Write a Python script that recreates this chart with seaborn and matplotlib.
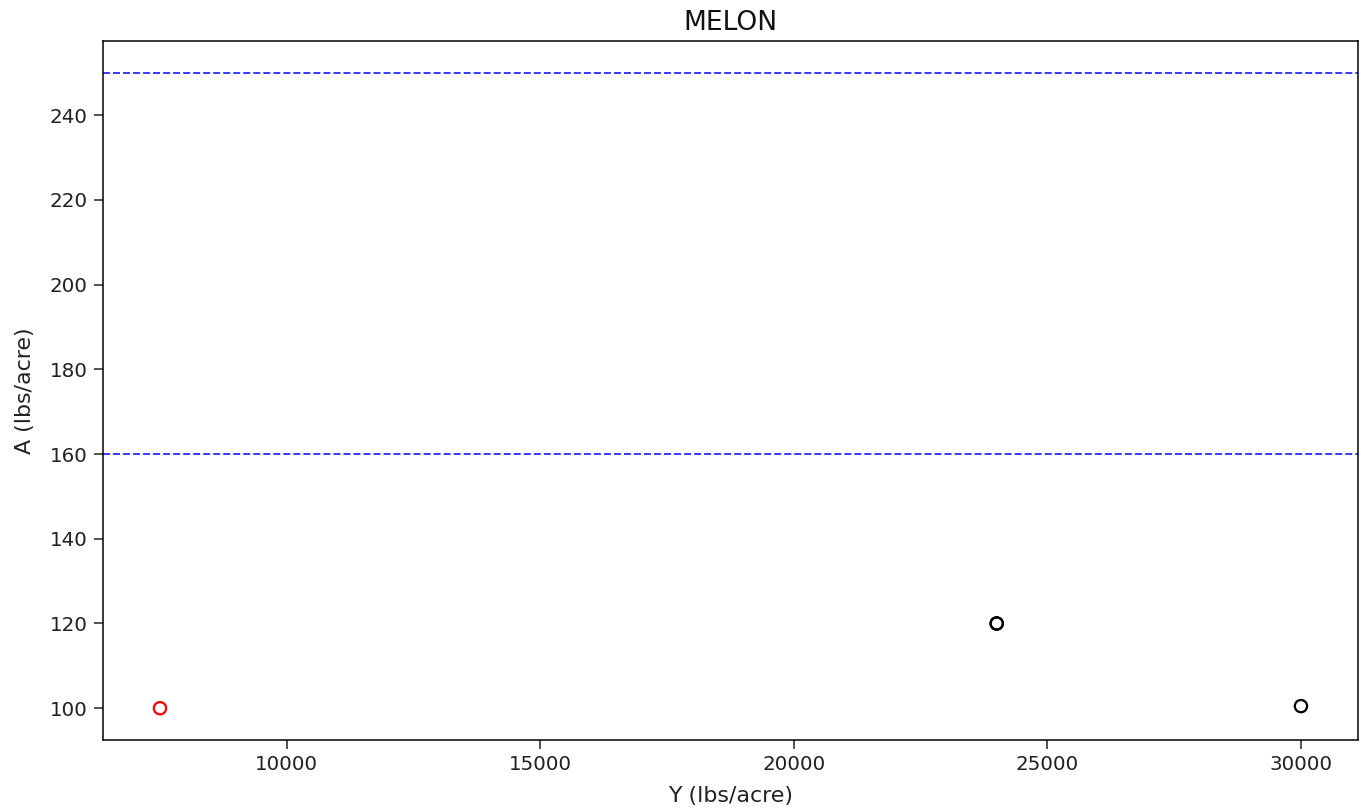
import matplotlib
matplotlib.use("Agg")
import matplotlib.pyplot as plt
import seaborn as sns
import pandas as pd

# Yield vs. application rate for melon fields
yield_lbs = [7500, 24000, 24000, 30000]
applied_lbs = [100, 120, 120, 100.5]
status = ["flag", "ok", "ok", "ok"]

# Recommended application band
band_low = 160
band_high = 250

df = pd.DataFrame({"Y": yield_lbs, "A": applied_lbs, "status": status})

fig = plt.figure(figsize=(10.0, 5.952), dpi=136.1)
ax = fig.add_axes([103 / 1361, 1 - 740 / 810, (1358 - 103) / 1361, (740 - 41) / 810])

for key, color in [("ok", "black"), ("flag", "red")]:
    sub = df[df["status"] == key]
    sns.scatterplot(data=sub, x="Y", y="A", ax=ax, marker="o",
                    facecolors="none", edgecolor=color, linewidth=1.2, s=42,
                    legend=False)

ax.axhline(band_low, color="blue", linestyle="--", linewidth=1, alpha=0.8)
ax.axhline(band_high, color="blue", linestyle="--", linewidth=1, alpha=0.8)

ax.tick_params(labelsize=10.5, length=4.5, colors="#222222")
ax.set_xlabel("Y (lbs/acre)", fontsize=11.7, color="#222222", labelpad=6)
ax.set_ylabel("A (lbs/acre)", fontsize=11.7, color="#222222", labelpad=8)
ax.set_title("MELON", fontsize=14, color="#111111")

fig.savefig("out.png", dpi=136.1)
